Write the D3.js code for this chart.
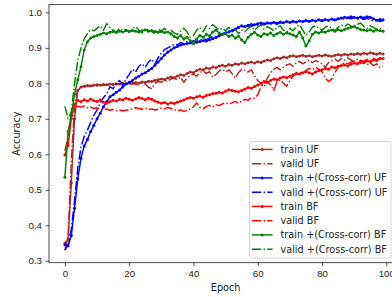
<!DOCTYPE html>
<html lang="en">
<head>
  <meta charset="UTF-8">
  <title>Accuracy per epoch</title>
  <script src="https://d3js.org/d3.v7.min.js"></script>
  <style>
    body { margin: 0; background: #fff; overflow: hidden; }
    svg { display: block; font-family: "DejaVu Sans", sans-serif; }
    .tick text { font-size: 9.7px; fill: #222; }
    .tick line { stroke: #222; stroke-width: 0.8; }
  </style>
</head>
<body>
  <svg id="chart"></svg>
  <script>
    // epochs 0..99
    const epochs = d3.range(100);

    const trainUF = [
      0.350, 0.360, 0.520, 0.700, 0.780, 0.790, 0.792, 0.794, 0.793, 0.795,
      0.796, 0.795, 0.797, 0.796, 0.798, 0.797, 0.799, 0.798, 0.800, 0.799,
      0.801, 0.800, 0.802, 0.801, 0.804, 0.803, 0.806, 0.805, 0.808, 0.810,
      0.812, 0.811, 0.815, 0.818, 0.816, 0.821, 0.824, 0.822, 0.828, 0.832,
      0.830, 0.836, 0.840, 0.838, 0.843, 0.841, 0.846, 0.844, 0.849, 0.851,
      0.848, 0.853, 0.851, 0.855, 0.853, 0.857, 0.855, 0.858, 0.860, 0.857,
      0.861, 0.859, 0.863, 0.866, 0.864, 0.869, 0.872, 0.870, 0.874, 0.872,
      0.876, 0.878, 0.875, 0.877, 0.879, 0.876, 0.878, 0.875, 0.877, 0.879,
      0.877, 0.880, 0.878, 0.876, 0.879, 0.881, 0.879, 0.882, 0.880, 0.883,
      0.881, 0.884, 0.882, 0.885, 0.883, 0.886, 0.884, 0.882, 0.885, 0.883
    ];
    const validUF = [
      0.330, 0.370, 0.580, 0.740, 0.780, 0.788, 0.790, 0.792, 0.791, 0.793,
      0.792, 0.795, 0.794, 0.796, 0.795, 0.797, 0.796, 0.798, 0.797, 0.799,
      0.796, 0.800, 0.797, 0.795, 0.801, 0.798, 0.789, 0.785, 0.800, 0.805,
      0.803, 0.808, 0.806, 0.812, 0.815, 0.810, 0.818, 0.803, 0.815, 0.822,
      0.826, 0.820, 0.830, 0.835, 0.828, 0.833, 0.818, 0.825, 0.835, 0.840,
      0.832, 0.838, 0.828, 0.815, 0.830, 0.840, 0.836, 0.832, 0.838, 0.822,
      0.808, 0.800, 0.790, 0.815, 0.830, 0.840, 0.845, 0.838, 0.846, 0.852,
      0.855, 0.848, 0.858, 0.862, 0.855, 0.860, 0.866, 0.858, 0.864, 0.860,
      0.855, 0.845, 0.858, 0.863, 0.868, 0.862, 0.870, 0.865, 0.872, 0.866,
      0.860, 0.868, 0.856, 0.862, 0.852, 0.858, 0.850, 0.855, 0.845, 0.848
    ];
    const trainCcUF = [
      0.345, 0.342, 0.371, 0.448, 0.530, 0.589, 0.623, 0.642, 0.664, 0.682,
      0.700, 0.716, 0.734, 0.748, 0.762, 0.768, 0.775, 0.781, 0.790, 0.798,
      0.803, 0.808, 0.815, 0.820, 0.826, 0.830, 0.836, 0.842, 0.851, 0.860,
      0.870, 0.880, 0.888, 0.894, 0.900, 0.904, 0.908, 0.910, 0.912, 0.914,
      0.913, 0.916, 0.918, 0.920, 0.919, 0.923, 0.926, 0.929, 0.934, 0.938,
      0.942, 0.945, 0.949, 0.953, 0.958, 0.962, 0.960, 0.964, 0.966, 0.965,
      0.968, 0.970, 0.968, 0.971, 0.969, 0.972, 0.970, 0.973, 0.971, 0.974,
      0.972, 0.975, 0.973, 0.976, 0.974, 0.977, 0.975, 0.978, 0.976, 0.979,
      0.977, 0.980, 0.978, 0.981, 0.979, 0.982, 0.984, 0.986, 0.985, 0.988,
      0.986, 0.984, 0.987, 0.985, 0.988, 0.986, 0.982, 0.978, 0.980, 0.979
    ];
    const validCcUF = [
      0.330, 0.345, 0.390, 0.470, 0.560, 0.620, 0.650, 0.668, 0.690, 0.710,
      0.725, 0.745, 0.760, 0.770, 0.790, 0.785, 0.800, 0.808, 0.795, 0.812,
      0.825, 0.840, 0.832, 0.848, 0.855, 0.845, 0.860, 0.868, 0.855, 0.872,
      0.885, 0.895, 0.900, 0.905, 0.910, 0.908, 0.915, 0.912, 0.918, 0.916,
      0.920, 0.918, 0.922, 0.925, 0.923, 0.928, 0.932, 0.930, 0.936, 0.940,
      0.944, 0.948, 0.945, 0.952, 0.956, 0.960, 0.958, 0.962, 0.960, 0.965,
      0.963, 0.967, 0.965, 0.969, 0.967, 0.970, 0.966, 0.971, 0.969, 0.973,
      0.970, 0.974, 0.971, 0.975, 0.972, 0.976, 0.973, 0.977, 0.974, 0.978,
      0.975, 0.979, 0.976, 0.980, 0.977, 0.981, 0.983, 0.980, 0.984, 0.982,
      0.985, 0.981, 0.984, 0.980, 0.983, 0.979, 0.975, 0.978, 0.974, 0.977
    ];
    const trainBF = [
      0.598, 0.625, 0.700, 0.740, 0.752, 0.748, 0.754, 0.750, 0.756, 0.751,
      0.749, 0.753, 0.747, 0.744, 0.748, 0.752, 0.750, 0.755, 0.753, 0.758,
      0.755, 0.752, 0.756, 0.760, 0.757, 0.754, 0.758, 0.755, 0.750, 0.747,
      0.744, 0.746, 0.742, 0.745, 0.743, 0.747, 0.750, 0.753, 0.757, 0.760,
      0.758, 0.762, 0.764, 0.761, 0.766, 0.768, 0.771, 0.772, 0.775, 0.773,
      0.778, 0.782, 0.780, 0.778, 0.776, 0.780, 0.784, 0.788, 0.786, 0.791,
      0.795, 0.800, 0.805, 0.802, 0.808, 0.812, 0.810, 0.815, 0.818, 0.816,
      0.820, 0.824, 0.828, 0.826, 0.830, 0.833, 0.830, 0.826, 0.832, 0.836,
      0.838, 0.842, 0.840, 0.846, 0.844, 0.848, 0.850, 0.852, 0.849, 0.854,
      0.857, 0.855, 0.860, 0.858, 0.863, 0.861, 0.866, 0.864, 0.869, 0.870
    ];
    const validBF = [
      0.610, 0.650, 0.715, 0.732, 0.735, 0.733, 0.736, 0.731, 0.733, 0.729,
      0.731, 0.727, 0.725, 0.728, 0.724, 0.726, 0.723, 0.725, 0.722, 0.724,
      0.726, 0.728, 0.731, 0.729, 0.727, 0.730, 0.726, 0.728, 0.725, 0.727,
      0.730, 0.728, 0.732, 0.729, 0.726, 0.722, 0.725, 0.721, 0.724, 0.728,
      0.734, 0.745, 0.732, 0.728, 0.735, 0.738, 0.733, 0.740, 0.737, 0.742,
      0.746, 0.741, 0.745, 0.749, 0.744, 0.750, 0.755, 0.752, 0.760, 0.758,
      0.768, 0.790, 0.800, 0.806, 0.796, 0.780, 0.805, 0.810, 0.800, 0.792,
      0.808, 0.820, 0.826, 0.832, 0.828, 0.836, 0.842, 0.838, 0.845, 0.840,
      0.832, 0.815, 0.805, 0.812, 0.830, 0.845, 0.852, 0.858, 0.855, 0.860,
      0.863, 0.858, 0.865, 0.862, 0.868, 0.864, 0.870, 0.866, 0.872, 0.868
    ];
    const trainCcBF = [
      0.535, 0.664, 0.709, 0.770, 0.810, 0.847, 0.894, 0.917, 0.928, 0.932,
      0.935, 0.938, 0.942, 0.940, 0.944, 0.946, 0.943, 0.947, 0.945, 0.948,
      0.946, 0.949, 0.947, 0.945, 0.948, 0.950, 0.947, 0.949, 0.946, 0.944,
      0.946, 0.943, 0.945, 0.940, 0.932, 0.928, 0.935, 0.925, 0.930, 0.920,
      0.913, 0.925, 0.935, 0.930, 0.938, 0.934, 0.945, 0.950, 0.942, 0.938,
      0.940, 0.932, 0.936, 0.928, 0.933, 0.922, 0.915, 0.930, 0.938, 0.944,
      0.936, 0.932, 0.940, 0.937, 0.942, 0.935, 0.940, 0.944, 0.938, 0.942,
      0.940, 0.936, 0.932, 0.945, 0.928, 0.905, 0.920, 0.938, 0.945, 0.942,
      0.946, 0.944, 0.948, 0.950, 0.947, 0.951, 0.948, 0.952, 0.955, 0.958,
      0.960, 0.956, 0.952, 0.950, 0.948, 0.951, 0.947, 0.950, 0.948, 0.947
    ];
    const validCcBF = [
      0.735, 0.700, 0.720, 0.800, 0.865, 0.900, 0.925, 0.940, 0.952, 0.948,
      0.955, 0.962, 0.950, 0.968, 0.958, 0.950, 0.945, 0.955, 0.948, 0.952,
      0.945, 0.953, 0.960, 0.950, 0.942, 0.955, 0.950, 0.946, 0.940, 0.952,
      0.948, 0.955, 0.945, 0.950, 0.942, 0.938, 0.948, 0.955, 0.945, 0.930,
      0.935, 0.950, 0.958, 0.945, 0.962, 0.955, 0.965, 0.958, 0.950, 0.955,
      0.948, 0.958, 0.945, 0.952, 0.940, 0.950, 0.945, 0.955, 0.962, 0.950,
      0.958, 0.965, 0.952, 0.960, 0.955, 0.948, 0.958, 0.962, 0.950, 0.945,
      0.955, 0.948, 0.960, 0.965, 0.950, 0.935, 0.945, 0.958, 0.962, 0.955,
      0.950, 0.958, 0.962, 0.955, 0.948, 0.958, 0.965, 0.960, 0.967, 0.962,
      0.958, 0.966, 0.970, 0.960, 0.955, 0.962, 0.958, 0.952, 0.955, 0.950
    ];

    const xTicks = [0, 20, 40, 60, 80, 100];
    const yTicks = [0.3, 0.4, 0.5, 0.6, 0.7, 0.8, 0.9, 1.0];

    const series = [
      { name: "train UF", values: trainUF, color: "#a52a2a", valid: false },
      { name: "valid UF", values: validUF, color: "#a52a2a", valid: true },
      { name: "train +(Cross-corr) UF", values: trainCcUF, color: "#0000ff", valid: false },
      { name: "valid +(Cross-corr) UF", values: validCcUF, color: "#0000ff", valid: true },
      { name: "train BF", values: trainBF, color: "#ff0000", valid: false },
      { name: "valid BF", values: validBF, color: "#ff0000", valid: true },
      { name: "train +(Cross-corr) BF", values: trainCcBF, color: "#008000", valid: false },
      { name: "valid +(Cross-corr) BF", values: validCcBF, color: "#008000", valid: true }
    ];

    const W = 392, H = 297;
    const mLeft = 49, mTop = 4.5, plotW = 350, mBottom = 262.7;
    const dashDot = "9.3,2.3,1.45,2.3";

    const svg = d3.select("#chart").attr("width", W).attr("height", H);

    const x = d3.scaleLinear().domain([-4.95, 103.95]).range([mLeft, mLeft + plotW]);
    const y = d3.scaleLinear().domain([0.2944, 1.0222]).range([mBottom, mTop]);

    // axes
    svg.append("g")
      .attr("transform", `translate(0,${mBottom})`)
      .call(d3.axisBottom(x).tickValues(xTicks).tickSize(3.5).tickPadding(3.5))
      .call(g => g.select(".domain").remove());

    svg.append("g")
      .attr("transform", `translate(${mLeft},0)`)
      .call(d3.axisLeft(y).tickValues(yTicks).tickFormat(d3.format(".1f")).tickSize(3.5).tickPadding(3.5))
      .call(g => g.select(".domain").remove());

    // lines
    const plot = svg.append("g");
    const line = d3.line().x((d, i) => x(epochs[i])).y(d => y(d));

    series.forEach(s => {
      plot.append("path")
        .attr("d", line(s.values))
        .attr("fill", "none")
        .attr("stroke", s.color)
        .attr("stroke-width", 1.45)
        .attr("stroke-linejoin", "round")
        .attr("stroke-dasharray", s.valid ? dashDot : null);
      if (!s.valid) {
        plot.append("g").selectAll("circle")
          .data(s.values)
          .join("circle")
          .attr("cx", (d, i) => x(epochs[i]))
          .attr("cy", d => y(d))
          .attr("r", 1.5)
          .attr("fill", s.color);
      }
    });

    // spines
    svg.append("rect")
      .attr("x", mLeft).attr("y", mTop)
      .attr("width", plotW).attr("height", mBottom - mTop)
      .attr("fill", "none").attr("stroke", "#222").attr("stroke-width", 0.8);

    // axis titles
    svg.append("text")
      .attr("x", x(50)).attr("y", 290.5)
      .attr("text-anchor", "middle")
      .attr("font-size", "9.7px").attr("fill", "#222")
      .text("Epoch");

    svg.append("text")
      .attr("transform", `translate(20,${(mTop + mBottom) / 2}) rotate(-90)`)
      .attr("text-anchor", "middle")
      .attr("font-size", "9.7px").attr("fill", "#222")
      .text("Accuracy");

    // legend
    const lg = svg.append("g");
    lg.append("rect")
      .attr("x", 249.5).attr("y", 141.5)
      .attr("width", 141.5).attr("height", 116.5)
      .attr("rx", 2)
      .attr("fill", "#fff").attr("fill-opacity", 0.8)
      .attr("stroke", "#ccc").attr("stroke-width", 0.8);

    series.forEach((s, i) => {
      const cy = 149.4 + i * 14.25;
      lg.append("line")
        .attr("x1", 252).attr("x2", 272.5)
        .attr("y1", cy).attr("y2", cy)
        .attr("stroke", s.color).attr("stroke-width", 1.45)
        .attr("stroke-dasharray", s.valid ? dashDot : null);
      if (!s.valid) {
        lg.append("circle").attr("cx", 262.2).attr("cy", cy).attr("r", 1.5).attr("fill", s.color);
      }
      lg.append("text")
        .attr("x", 280.5).attr("y", cy)
        .attr("dy", "0.35em")
        .attr("font-size", "9.7px").attr("fill", "#222")
        .text(s.name);
    });
  </script>
</body>
</html>
